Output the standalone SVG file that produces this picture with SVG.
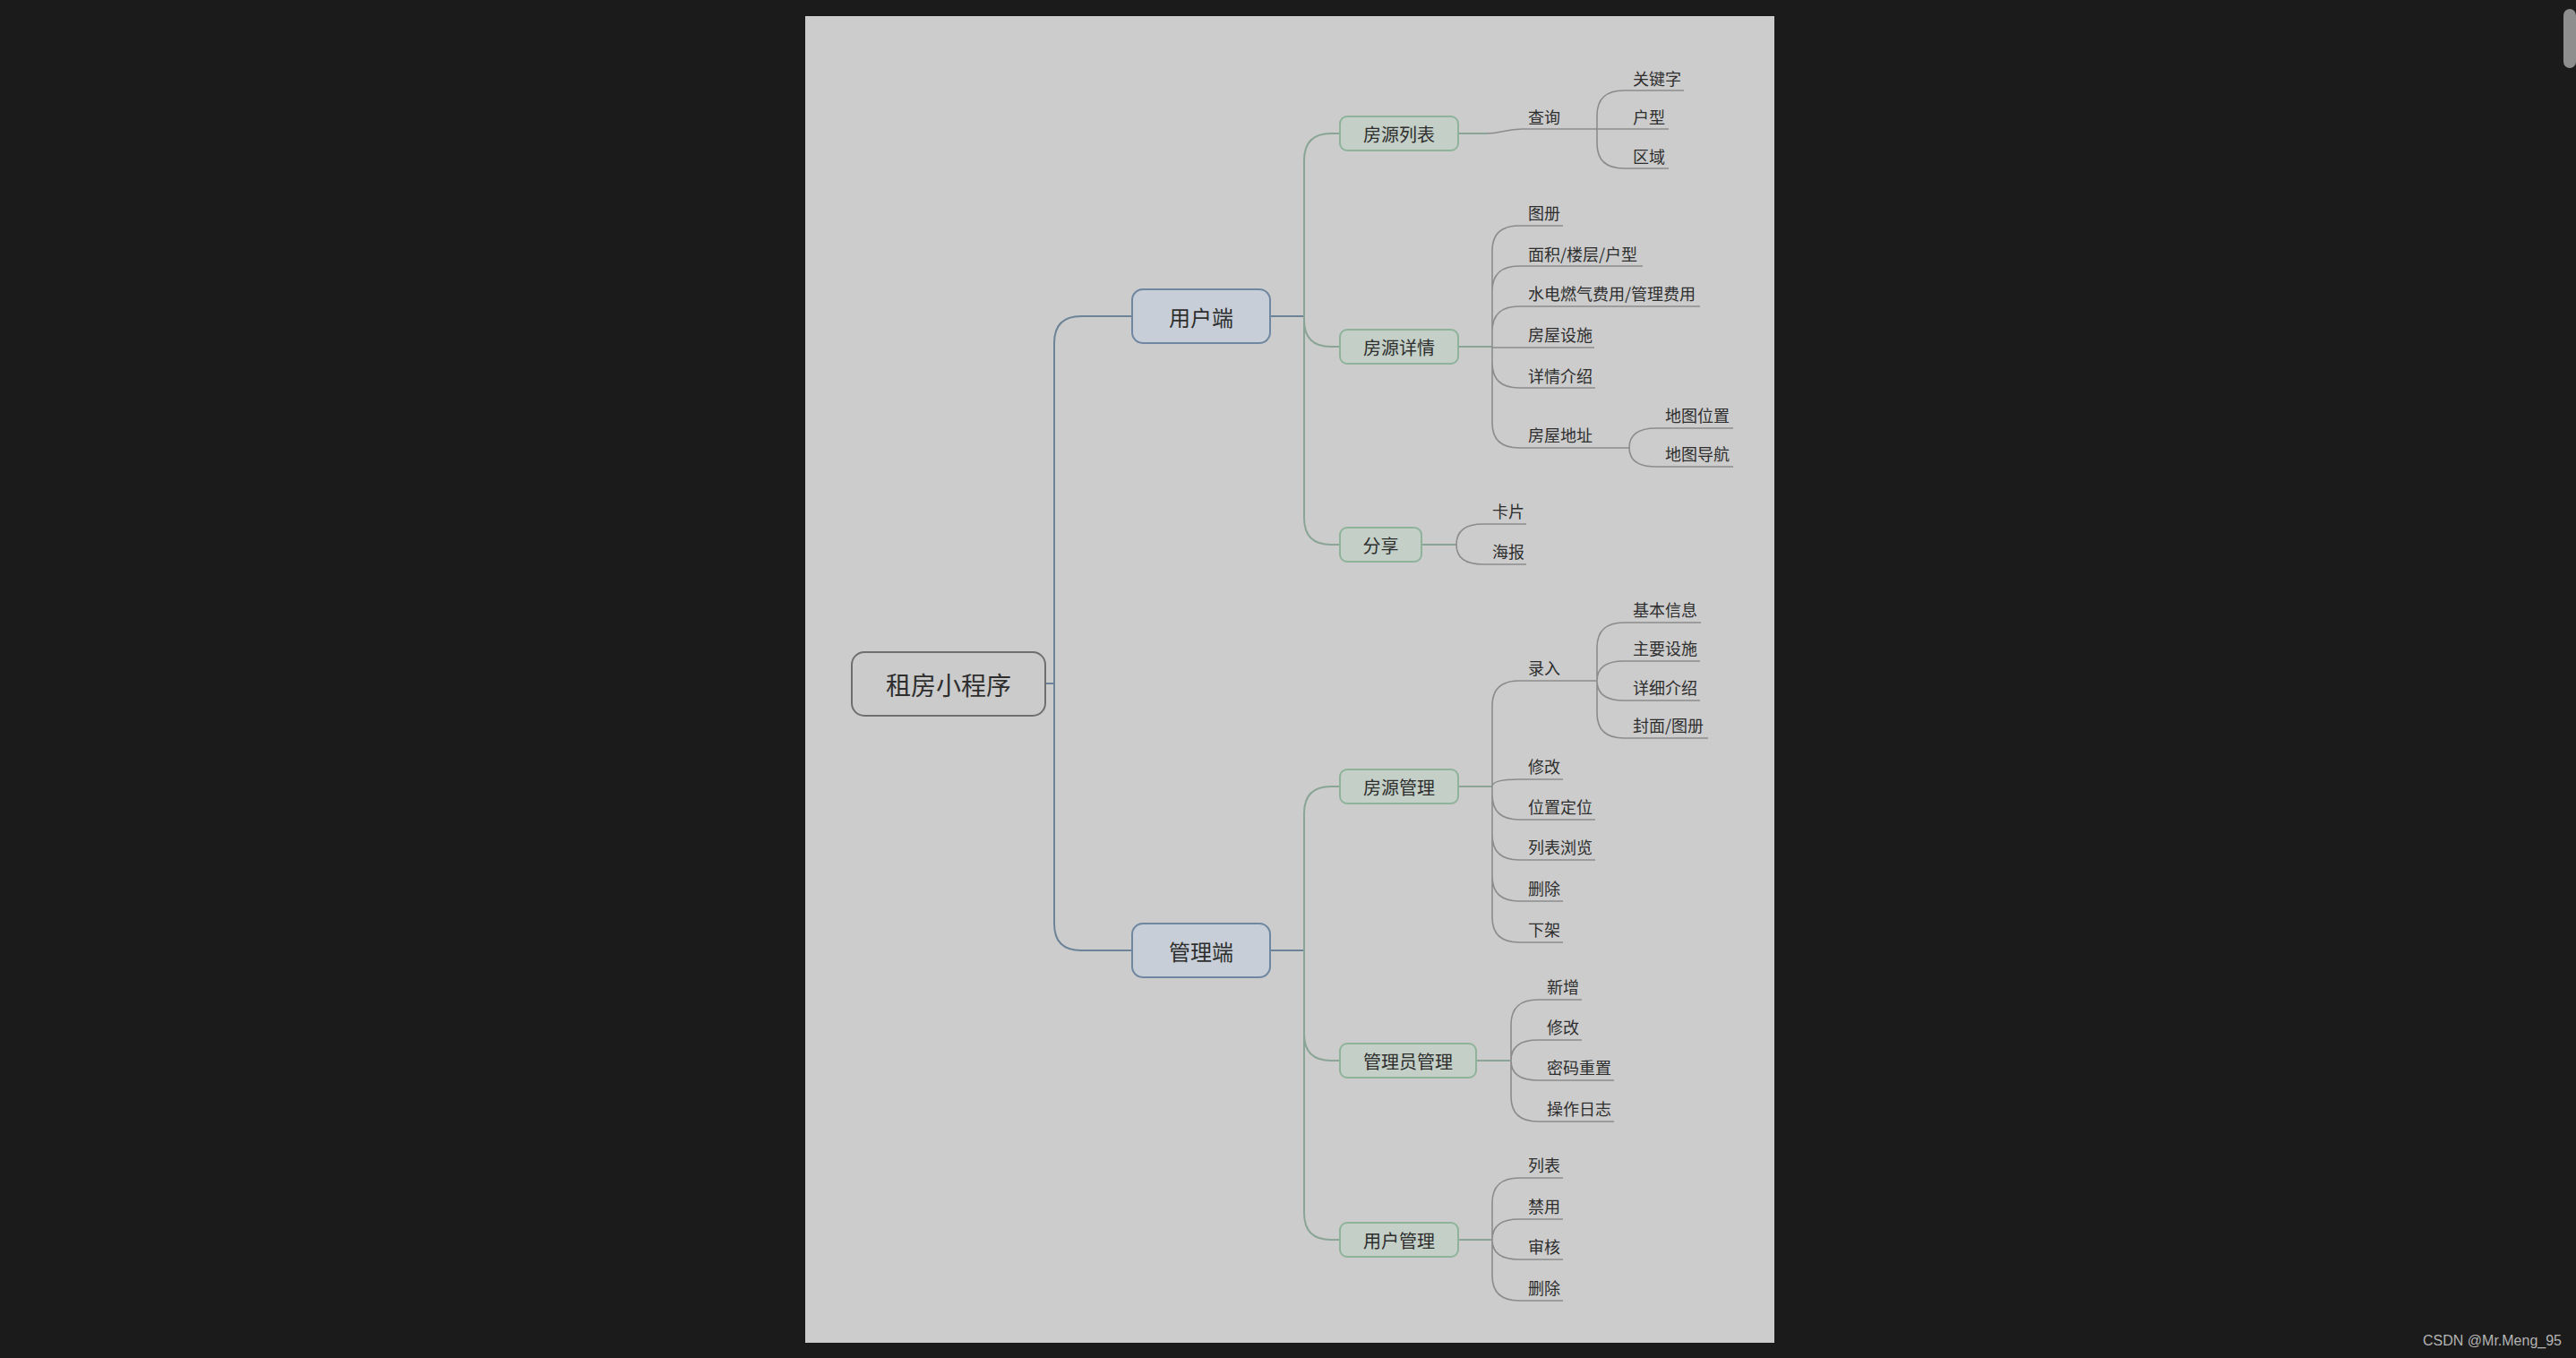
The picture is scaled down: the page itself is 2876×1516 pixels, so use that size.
<svg xmlns="http://www.w3.org/2000/svg" width="2876" height="1516" viewBox="0 0 2876 1516">
<style>
text{font-family:"Noto Sans CJK SC","Noto Sans",sans-serif;fill:#2e2e2e}
.root rect{fill:#cbcbcb;stroke:#6f6f6f;stroke-width:2}
.l1 rect{fill:#c8ced7;stroke:#6f87a0;stroke-width:2}
.l2 rect{fill:#c4d0c7;stroke:#8fb29b;stroke-width:2}
.root text{font-size:28px}
.l1 text{font-size:24px}
.l2 text{font-size:20px}
.box text{text-anchor:middle;dominant-baseline:central}
.leaf text{font-size:18px}
.c0{fill:none;stroke:#6d8398;stroke-width:2}
.c1{fill:none;stroke:#8aa596;stroke-width:2}
.c2{fill:none;stroke:#8c8c8c;stroke-width:1.6}
</style>
<rect x="0" y="0" width="2876" height="1516" fill="#1b1b1b"/>
<rect x="899" y="18" width="1082" height="1481" fill="#cccccc"/>
<rect x="2862" y="10" width="14" height="66" rx="7" fill="#8e8e8e"/>
<text x="2860" y="1502" text-anchor="end" style="font-family:'Liberation Sans',Arial,sans-serif;font-size:16px;fill:#b4b4b4">CSDN @Mr.Meng_95</text>

<g id="connectors">
<path class="c0" d="M1167,763 H1177 M1177,763 V383 Q1177,353 1207,353 H1264 M1177,763 V1031 Q1177,1061 1207,1061 H1264"/>
<path class="c0" d="M1418,353 H1456 M1418,1061 H1456"/>
<path class="c1" d="M1456,353 V179 Q1456,149 1486,149 H1496 M1456,353 V357 Q1456,387 1486,387 H1496 M1456,353 V578 Q1456,608 1486,608 H1496"/>
<path class="c1" d="M1456,1061 V908 Q1456,878 1486,878 H1496 M1456,1061 V1154 Q1456,1184 1486,1184 H1496 M1456,1061 V1354 Q1456,1384 1486,1384 H1496"/>
<path class="c1" d="M1628,149 H1660 M1628,387 H1666 M1587,608 H1626 M1628,878 H1666 M1648,1184 H1687 M1628,1384 H1666"/>
<path class="c2" d="M1660,149 C1676,149 1680,144 1700,144 H1783"/>
<path class="c2" d="M1783,144 V129 Q1783,101 1813,101 H1880 M1783,144 H1863 M1783,144 V160 Q1783,188 1813,188 H1863"/>
<path class="c2" d="M1666,387 V280 Q1666,252 1696,252 H1745 M1666,387 V325 Q1666,297 1696,297 H1834 M1666,387 V370 Q1666,342 1696,342 H1898 M1666,388 H1780 M1666,387 V405 Q1666,433 1696,433 H1781 M1666,387 V472 Q1666,500 1696,500 H1819"/>
<path class="c2" d="M1819,500 Q1819,478 1849,478 H1935 M1819,500 Q1819,521 1849,521 H1935"/>
<path class="c2" d="M1626,608 Q1626,585 1656,585 H1704 M1626,608 Q1626,630 1656,630 H1704"/>
<path class="c2" d="M1666,878 V788 Q1666,760 1696,760 H1783 M1666,878 Q1666,870 1696,870 H1745 M1666,878 V887 Q1666,915 1696,915 H1781 M1666,878 V932 Q1666,960 1696,960 H1781 M1666,878 V978 Q1666,1006 1696,1006 H1745 M1666,878 V1024 Q1666,1052 1696,1052 H1745"/>
<path class="c2" d="M1783,760 V723 Q1783,695 1813,695 H1899 M1783,760 Q1783,738 1813,738 H1898 M1783,760 Q1783,782 1813,782 H1898 M1783,760 V796 Q1783,824 1813,824 H1907"/>
<path class="c2" d="M1687,1184 V1144 Q1687,1116 1717,1116 H1766 M1687,1184 Q1687,1161 1717,1161 H1766 M1687,1184 Q1687,1206 1717,1206 H1802 M1687,1184 V1224 Q1687,1252 1717,1252 H1802"/>
<path class="c2" d="M1666,1384 V1343 Q1666,1315 1696,1315 H1745 M1666,1384 Q1666,1361 1696,1361 H1745 M1666,1384 Q1666,1406 1696,1406 H1745 M1666,1384 V1424 Q1666,1452 1696,1452 H1745"/>
</g>

<g id="n-root" class="box root"><rect x="951" y="728" width="216" height="71" rx="14"/><text x="1059" y="764">租房小程序</text></g>
<g id="n-user" class="box l1"><rect x="1264" y="323" width="154" height="60" rx="12"/><text x="1341" y="353">用户端</text></g>
<g id="n-admin" class="box l1"><rect x="1264" y="1031" width="154" height="60" rx="12"/><text x="1341" y="1061">管理端</text></g>

<g id="n-list" class="box l2"><rect x="1496" y="130" width="132" height="38" rx="8"/><text x="1562" y="149">房源列表</text></g>
<g id="n-detail" class="box l2"><rect x="1496" y="368" width="132" height="38" rx="8"/><text x="1562" y="387">房源详情</text></g>
<g id="n-share" class="box l2"><rect x="1496" y="589" width="91" height="38" rx="8"/><text x="1541.5" y="608">分享</text></g>
<g id="n-house" class="box l2"><rect x="1496" y="859" width="132" height="38" rx="8"/><text x="1562" y="878">房源管理</text></g>
<g id="n-adminmgr" class="box l2"><rect x="1496" y="1165" width="152" height="38" rx="8"/><text x="1572" y="1184">管理员管理</text></g>
<g id="n-usermgr" class="box l2"><rect x="1496" y="1365" width="132" height="38" rx="8"/><text x="1562" y="1384">用户管理</text></g>

<g class="leaf">
<g id="n-query"><text x="1706" y="138">查询</text></g>
<g id="n-kw"><text x="1823" y="95">关键字</text></g>
<g id="n-type"><text x="1823" y="138">户型</text></g>
<g id="n-area"><text x="1823" y="182">区域</text></g>

<g id="n-album"><text x="1706" y="245">图册</text></g>
<g id="n-size"><text x="1706" y="291">面积/楼层/户型</text></g>
<g id="n-fee"><text x="1706" y="335">水电燃气费用/管理费用</text></g>
<g id="n-facility"><text x="1706" y="381">房屋设施</text></g>
<g id="n-intro"><text x="1706" y="427">详情介绍</text></g>
<g id="n-addr"><text x="1706" y="493">房屋地址</text></g>
<g id="n-mappos"><text x="1859" y="471">地图位置</text></g>
<g id="n-mapnav"><text x="1859" y="514">地图导航</text></g>

<g id="n-card"><text x="1666" y="578">卡片</text></g>
<g id="n-poster"><text x="1666" y="623">海报</text></g>

<g id="n-input"><text x="1706" y="753">录入</text></g>
<g id="n-basic"><text x="1823" y="688">基本信息</text></g>
<g id="n-mainfac"><text x="1823" y="731">主要设施</text></g>
<g id="n-detailintro"><text x="1823" y="775">详细介绍</text></g>
<g id="n-cover"><text x="1823" y="817">封面/图册</text></g>
<g id="n-edit"><text x="1706" y="863">修改</text></g>
<g id="n-locate"><text x="1706" y="908">位置定位</text></g>
<g id="n-browse"><text x="1706" y="953">列表浏览</text></g>
<g id="n-del1"><text x="1706" y="999">删除</text></g>
<g id="n-offshelf"><text x="1706" y="1045">下架</text></g>

<g id="n-add"><text x="1727" y="1109">新增</text></g>
<g id="n-edit2"><text x="1727" y="1154">修改</text></g>
<g id="n-pwd"><text x="1727" y="1199">密码重置</text></g>
<g id="n-log"><text x="1727" y="1245">操作日志</text></g>

<g id="n-ulist"><text x="1706" y="1308">列表</text></g>
<g id="n-ban"><text x="1706" y="1354">禁用</text></g>
<g id="n-audit"><text x="1706" y="1399">审核</text></g>
<g id="n-del2"><text x="1706" y="1445">删除</text></g>
</g>
</svg>
